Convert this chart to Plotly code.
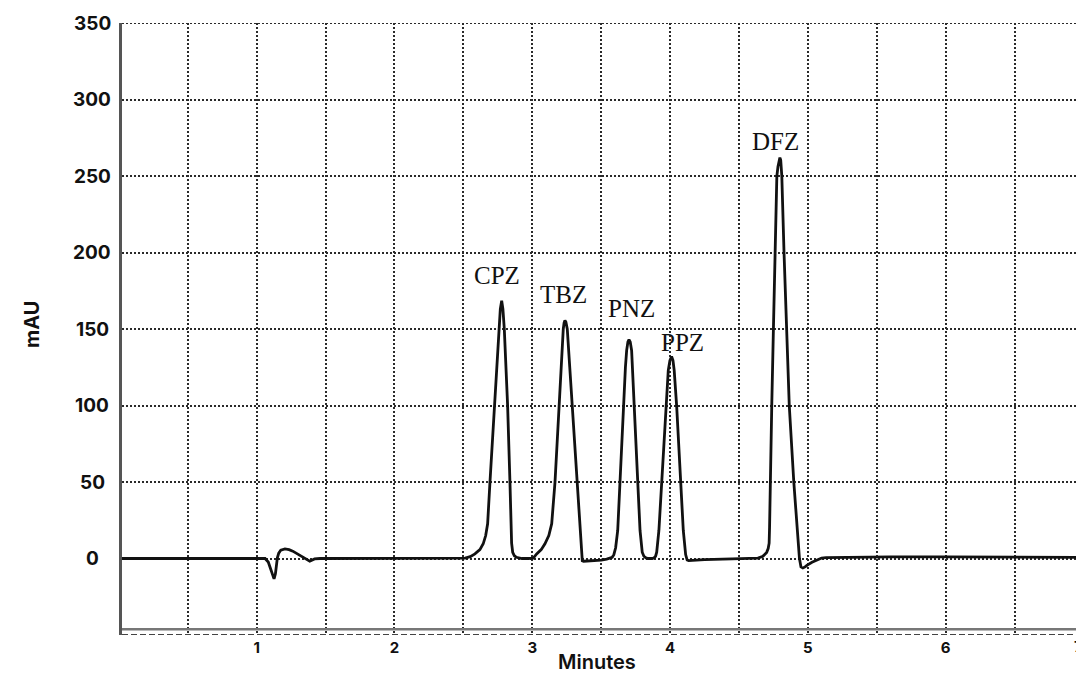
import plotly.graph_objects as go

# Chromatogram trace: retention time (min) and detector response (mAU)
time_min = [
    0.00, 1.00, 1.061, 1.084, 1.100, 1.112, 1.126, 1.136, 1.143, 1.150, 1.160,
    1.175, 1.205, 1.235, 1.262, 1.290, 1.318, 1.345, 1.370, 1.385, 1.400, 1.420,
    1.46, 2.40, 2.512,
    # CPZ
    2.550, 2.584, 2.620, 2.644, 2.662, 2.676, 2.693, 2.709, 2.724, 2.741, 2.758,
    2.768, 2.778, 2.787, 2.797, 2.809, 2.821, 2.838, 2.850, 2.858, 2.870, 2.885,
    2.905, 2.925,
    # TBZ
    2.970, 3.007, 3.032, 3.065, 3.092, 3.120, 3.141, 3.165, 3.180, 3.194, 3.210,
    3.225, 3.231, 3.237, 3.244, 3.254, 3.272, 3.290, 3.306, 3.322, 3.337, 3.351,
    3.358, 3.363, 3.372,
    3.450, 3.500, 3.540,
    # PNZ
    3.560, 3.580, 3.592, 3.605, 3.620, 3.636, 3.660, 3.676, 3.685, 3.694, 3.702,
    3.711, 3.721, 3.740, 3.765, 3.782, 3.798, 3.810, 3.825, 3.842, 3.870, 3.885,
    # PPZ
    3.895, 3.903, 3.919, 3.939, 3.968, 3.987, 3.999, 4.011, 4.021, 4.030, 4.048,
    4.079, 4.096, 4.113, 4.124, 4.135,
    4.250, 4.450, 4.594,
    # DFZ
    4.638, 4.674, 4.701, 4.712, 4.719, 4.722, 4.727, 4.738, 4.750, 4.762, 4.775,
    4.783, 4.790, 4.797, 4.803, 4.808, 4.811, 4.827, 4.846, 4.865, 4.898, 4.921,
    4.939, 4.950, 4.964, 4.980, 4.993, 5.030, 5.066, 5.100, 5.132,
    5.30, 5.60, 6.00, 6.40, 6.95,
]
absorbance_mau = [
    0.0, 0.0, 0.0, -2.3, -6.5, -11.0, -13.3, -10.0, -5.0, 0.5, 3.5,
    5.5, 6.3, 5.8, 4.8, 3.3, 1.6, -0.2, -1.5, -1.8, -1.1, -0.3,
    0.0, 0.0, 0.3,
    1.2, 3.0, 5.8, 9.6, 15.0, 22.7, 50.0, 75.0, 100.0, 125.0, 150.0,
    163.0, 168.5, 163.0, 150.0, 125.0, 100.0, 50.0, 10.0, 4.0, 1.8, 0.8,
    0.2, 0.0,
    0.0, 0.3, 3.0, 5.8, 9.6, 15.0, 22.7, 50.0, 75.0, 100.0, 125.0,
    150.0, 154.0, 155.6, 154.5, 150.0, 125.0, 100.0, 75.0, 50.0, 28.0, 10.0,
    2.0, -1.5, -1.8,
    -1.5, -1.0, -0.4,
    0.1, 0.8, 2.5, 7.0, 18.3, 49.7, 99.4, 125.0, 136.0, 141.5, 143.0,
    141.5, 136.0, 99.4, 49.7, 18.3, 4.1, 1.5, 0.4, 0.0, 0.0, 0.5,
    1.5, 4.1, 18.3, 49.7, 99.4, 123.0, 129.5, 132.0, 129.5, 123.0, 99.4,
    49.7, 18.3, 2.6, -1.0, -1.4,
    -0.8, -0.3, 0.0,
    0.3, 1.5, 4.0, 6.5, 10.0, 20.0, 50.0, 100.0, 150.0, 200.0, 250.0,
    256.0, 260.5, 262.0, 260.5, 255.0, 250.0, 200.0, 150.0, 100.0, 50.0, 20.0,
    0.0, -5.5, -6.2, -5.5, -4.5, -2.5, -0.8, 0.3, 0.6,
    0.9, 1.0, 1.0, 0.9, 0.8,
]

peak_names = ["CPZ", "TBZ", "PNZ", "PPZ", "DFZ"]
label_time = [2.742, 3.228, 3.721, 4.088, 4.767]
label_mau = [184.7, 172.5, 163.5, 141.2, 272.5]

y_tick_values = [0, 50, 100, 150, 200, 250, 300, 350]
x_tick_values = [0.5, 1, 1.5, 2, 2.5, 3, 3.5, 4, 4.5, 5, 5.5, 6, 6.5]
x_tick_text = ["", "1", "", "2", "", "3", "", "4", "", "5", "", "6", ""]

SANS = "Inter"
GRID = "#2a2a2a"

fig = go.Figure()
fig.add_trace(go.Scatter(
    x=time_min, y=absorbance_mau, mode="lines",
    line=dict(color="#111111", width=2.8),
    hoverinfo="skip", showlegend=False,
))

annotations = []
for name, t, v in zip(peak_names, label_time, label_mau):
    annotations.append(dict(
        x=t, y=v, xref="x", yref="y", text=name, showarrow=False,
        xanchor="center", yanchor="middle",
        font=dict(family="Liberation Serif", size=25, color="#111111"),
    ))

# y tick labels, centred in the left margin
for v in y_tick_values:
    annotations.append(dict(
        x=-0.0314, y=v, xref="paper", yref="y", text=str(v), showarrow=False,
        xanchor="center", yanchor="middle",
        font=dict(family=SANS, size=19, color="#111111", weight=700),
    ))

# last minute mark, sitting on the right edge
annotations.append(dict(
    x=1.0021, y=-0.019, xref="paper", yref="paper", text="7", showarrow=False,
    xanchor="center", yanchor="middle",
    font=dict(family=SANS, size=15, color="#111111", weight=700),
))

# axis titles
annotations.append(dict(
    x=0.498, y=-0.0436, xref="paper", yref="paper", text="Minutes",
    showarrow=False, xanchor="center", yanchor="middle",
    font=dict(family=SANS, size=20, color="#111111", weight=600),
))
annotations.append(dict(
    x=-0.0943, y=0.5065, xref="paper", yref="paper", text="mAU",
    showarrow=False, xanchor="center", yanchor="middle", textangle=-90,
    font=dict(family=SANS, size=20, color="#111111", weight=700),
))

shapes = [
    # dashed floor line
    dict(type="line", xref="paper", yref="y", x0=0, x1=1, y0=-50, y1=-50,
         line=dict(color="#444444", width=2, dash="6px,3px")),
    # solid grey baseline rule just above it
    dict(type="line", xref="paper", yref="y", x0=0, x1=1, y0=-46.2, y1=-46.2,
         line=dict(color="#777777", width=2.5)),
    # top border at 350
    dict(type="line", xref="paper", yref="y", x0=0, x1=1, y0=350, y1=350,
         line=dict(color=GRID, width=1.8, dash="2px,2px")),
]

fig.update_layout(
    width=1076, height=676,
    margin=dict(l=122, r=0, t=23, b=41),
    paper_bgcolor="white", plot_bgcolor="white",
    annotations=annotations, shapes=shapes,
    xaxis=dict(
        range=[0.0225, 6.946], tickvals=x_tick_values, ticktext=x_tick_text,
        showgrid=True, gridcolor=GRID, gridwidth=1.5, griddash="2px,2px",
        zeroline=False, showline=False, ticks="", ticklabelstandoff=2,
        tickfont=dict(family=SANS, size=15, color="#111111", weight=700),
        fixedrange=True,
    ),
    yaxis=dict(
        range=[-50, 350], tickvals=y_tick_values, showticklabels=False,
        showgrid=True, gridcolor=GRID, gridwidth=1.5, griddash="2px,2px",
        zeroline=False, showline=True, linecolor="#555555", linewidth=2.5,
        ticks="", fixedrange=True,
    ),
)

fig.write_html("out.html")
